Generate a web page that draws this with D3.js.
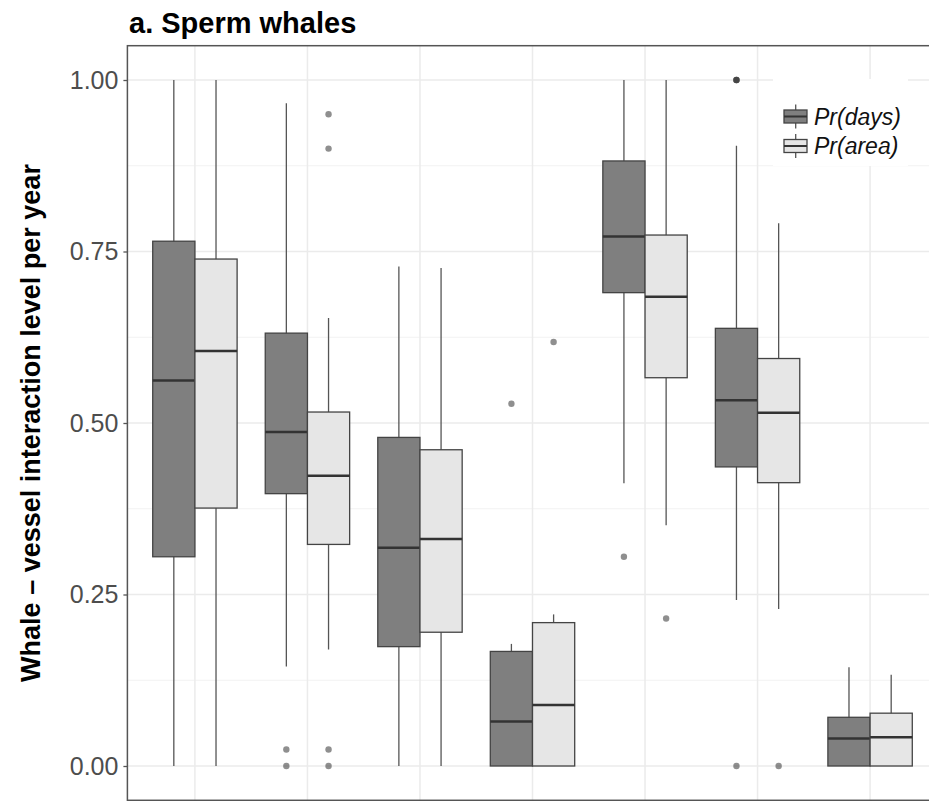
<!DOCTYPE html>
<html>
<head>
<meta charset="utf-8">
<script src="https://cdn.jsdelivr.net/npm/d3@7"></script>
<style>
  body { margin: 0; background: #fff; overflow: hidden; }
  svg { display: block; }
  text { font-family: "Liberation Sans", Arial, sans-serif; }
</style>
</head>
<body>
<div id="chart"></div>
<script>
// box stats per group
const groups = ['1', '2', '3', '4', '5', '6', '7']
const series = ['days', 'area']
const seriesLabels = ['Pr(days)', 'Pr(area)']

// [lowerWhisker, q1, median, q3, upperWhisker]
const daysStats = [
    [0, 0.305, 0.562, 0.765, 1.0],
    [0.145, 0.397, 0.487, 0.631, 0.966],
    [0, 0.174, 0.318, 0.479, 0.728],
    [0, 0, 0.065, 0.167, 0.178],
    [0.412, 0.690, 0.772, 0.882, 1.0],
    [0.242, 0.436, 0.533, 0.638, 0.904],
    [0, 0, 0.040, 0.071, 0.144]
]
const areaStats = [
    [0, 0.376, 0.605, 0.739, 1.0],
    [0.170, 0.323, 0.423, 0.516, 0.653],
    [0, 0.195, 0.331, 0.461, 0.726],
    [0, 0, 0.089, 0.209, 0.221],
    [0.351, 0.566, 0.684, 0.774, 1.0],
    [0.229, 0.413, 0.515, 0.594, 0.791],
    [0, 0, 0.042, 0.077, 0.133]
]
const daysOutliers = [[], [0.024, 0], [], [0.528], [0.305], [1.0, 1.0, 1.0, 0], []]
const areaOutliers = [[], [0.950, 0.900, 0.024, 0], [], [0.618], [0.215], [0], []]
const yTicks = [0, 0.25, 0.5, 0.75, 1]
const yMinor = [0.125, 0.375, 0.625, 0.875]

const width = 929
const height = 801
const margin = { top: 45.7, left: 127.4, right: -8.6, bottom: 0.7 }

const svg = d3.select('#chart')
    .append('svg')
    .attr('width', width)
    .attr('height', height)

const x = d3.scalePoint()
    .domain(groups)
    .range([margin.left, width - margin.right])
    .padding(0.6)

const dodge = d3.scaleBand()
    .domain(series)
    .range([-0.375 * x.step(), 0.375 * x.step()])

const y = d3.scaleLinear()
    .domain([-0.05, 1.05])
    .range([height - margin.bottom, margin.top])

const fills = { days: '#7f7f7f', area: '#e6e6e6' }

// grid
const grid = svg.append('g')
grid.selectAll('.minor')
    .data(yMinor)
    .join('line')
        .attr('x1', margin.left).attr('x2', width)
        .attr('y1', d => y(d)).attr('y2', d => y(d))
        .attr('stroke', '#f2f2f2').attr('stroke-width', 1)
grid.selectAll('.major')
    .data(yTicks)
    .join('line')
        .attr('x1', margin.left).attr('x2', width)
        .attr('y1', d => y(d)).attr('y2', d => y(d))
        .attr('stroke', '#ebebeb').attr('stroke-width', 1.5)
grid.selectAll('.vmajor')
    .data(groups)
    .join('line')
        .attr('x1', d => x(d)).attr('x2', d => x(d))
        .attr('y1', margin.top).attr('y2', height - margin.bottom)
        .attr('stroke', '#ebebeb').attr('stroke-width', 1.5)

// boxes
const rows = []
groups.forEach((g, i) => {
    rows.push({ g, s: 'days', st: daysStats[i], out: daysOutliers[i] })
    rows.push({ g, s: 'area', st: areaStats[i], out: areaOutliers[i] })
})

const bw = dodge.bandwidth()
const box = svg.append('g')
    .selectAll('g')
    .data(rows)
    .join('g')
        .attr('transform', d => `translate(${x(d.g) + dodge(d.s)},0)`)

box.append('line')
    .attr('x1', bw / 2).attr('x2', bw / 2)
    .attr('y1', d => y(d.st[0])).attr('y2', d => y(d.st[4]))
    .attr('stroke', '#555').attr('stroke-width', 1.3)

box.append('rect')
    .attr('x', 0)
    .attr('width', bw)
    .attr('y', d => y(d.st[3]))
    .attr('height', d => y(d.st[1]) - y(d.st[3]))
    .attr('fill', d => fills[d.s])
    .attr('stroke', '#444').attr('stroke-width', 1.3)

box.append('line')
    .attr('x1', 0).attr('x2', bw)
    .attr('y1', d => y(d.st[2])).attr('y2', d => y(d.st[2]))
    .attr('stroke', '#333').attr('stroke-width', 2.5)

box.selectAll('circle')
    .data(d => d.out)
    .join('circle')
        .attr('cx', bw / 2)
        .attr('cy', d => y(d))
        .attr('r', 3.2)
        .attr('fill', '#333')
        .attr('fill-opacity', 0.55)

// panel border (right side falls outside the picture)
svg.append('rect')
    .attr('x', margin.left).attr('y', margin.top)
    .attr('width', x.range()[1] - margin.left)
    .attr('height', height - margin.bottom - margin.top)
    .attr('fill', 'none').attr('stroke', '#555').attr('stroke-width', 1.5)

// axes
svg.append('g')
    .attr('transform', `translate(${margin.left},0)`)
    .call(d3.axisLeft(y).tickValues(yTicks).tickFormat(d3.format('.2f')).tickSize(4).tickPadding(5))
    .call(g => g.select('.domain').remove())
    .call(g => g.selectAll('line').attr('stroke', '#555').attr('stroke-width', 1.3))
    .call(g => g.selectAll('text').attr('font-size', '25px').attr('fill', '#4d4d4d')
        .attr('font-family', '"Liberation Sans", Arial, sans-serif'))

svg.append('g')
    .attr('transform', `translate(0,${height - margin.bottom})`)
    .call(d3.axisBottom(x).tickSize(4).tickFormat(''))
    .call(g => g.select('.domain').remove())
    .call(g => g.selectAll('line').attr('stroke', '#555').attr('stroke-width', 1.3))

// title
svg.append('text')
    .attr('x', 129).attr('y', 33)
    .attr('font-size', '29px').attr('font-weight', 'bold')
    .text('a. Sperm whales')

svg.append('text')
    .attr('transform', `translate(40,${y(0.5)}) rotate(-90)`)
    .attr('text-anchor', 'middle')
    .attr('font-size', '27px').attr('font-weight', 'bold')
    .text('Whale \u2013 vessel interaction level per year')

// legend
const legend = svg.append('g').attr('transform', 'translate(773,79)')
legend.append('rect')
    .attr('width', 135).attr('height', 87).attr('fill', '#fff')
const key = legend.selectAll('g')
    .data(series)
    .join('g')
        .attr('transform', (d, i) => `translate(0,${37.5 + i * 29.5})`)
key.append('line')
    .attr('x1', 22.7).attr('x2', 22.7).attr('y1', -12).attr('y2', 12)
    .attr('stroke', '#555').attr('stroke-width', 1.3)
key.append('rect')
    .attr('x', 11).attr('y', -6.5).attr('width', 23).attr('height', 13)
    .attr('fill', d => fills[d]).attr('stroke', '#444').attr('stroke-width', 1.3)
key.append('line')
    .attr('x1', 11).attr('x2', 34).attr('y1', 0).attr('y2', 0)
    .attr('stroke', '#333').attr('stroke-width', 2)
key.append('text')
    .attr('x', 41).attr('y', 8)
    .attr('font-size', '23px').attr('font-style', 'italic')
    .attr('fill', '#111')
    .text((d, i) => seriesLabels[i])
</script>
</body>
</html>
